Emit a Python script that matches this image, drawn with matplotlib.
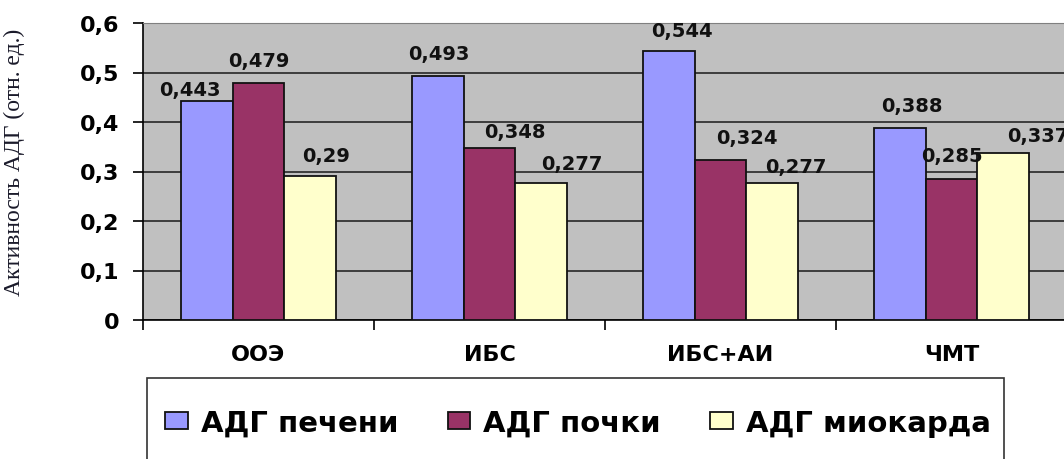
import numpy as np
import matplotlib.pyplot as plt
from matplotlib.patches import Rectangle

# данные
groups = ['ООЭ', 'ИБС', 'ИБС+АИ', 'ЧМТ']
series = ['АДГ печени', 'АДГ почки', 'АДГ миокарда']
liver = [0.443, 0.493, 0.544, 0.388]
kidney = [0.479, 0.348, 0.324, 0.285]
myocard = [0.29, 0.277, 0.277, 0.337]
yticks = [0, 0.1, 0.2, 0.3, 0.4, 0.5, 0.6]
ytick_labels = ['0', '0,1', '0,2', '0,3', '0,4', '0,5', '0,6']

colors = ['#9999FF', '#993366', '#FFFFCC']
# сдвиг подписей (pt), как в исходнике
label_dx = [[-12, 1, 10, 9], [0, 18, 19, 0], [11, 22, 17, 25]]
label_dy = [[1, 9, 8, 9], [9, 5, 9, 10], [8, 7, 5, 6]]

plt.rcParams['font.family'] = ['DejaVu Sans']

fig = plt.figure(figsize=(10.64, 4.6), dpi=100)
ax = fig.add_axes([143 / 1064, 1 - 321 / 460, 924 / 1064, 297 / 460])
ax.set_facecolor('#C0C0C0')

x = np.arange(len(groups))
w = 0.225
data = [liver, kidney, myocard]
for i, vals in enumerate(data):
    xs = x + (i - 1) * w
    ax.bar(xs, vals, width=w, color=colors[i], edgecolor='#111111',
           linewidth=1.3, label=series[i], zorder=3)
    for j, v in enumerate(vals):
        ax.annotate(str(v).replace('.', ','), (xs[j], v),
                    xytext=(label_dx[i][j], label_dy[i][j]),
                    textcoords='offset points', ha='center', va='bottom',
                    fontsize=14, fontweight='bold', color='#111111',
                    zorder=4, annotation_clip=False)

ax.set_xlim(-0.5, 3.5)
ax.set_ylim(0, 0.6)
ax.set_yticks(yticks)
ax.set_yticklabels(ytick_labels, fontsize=16, fontweight='bold')
ax.yaxis.grid(True, color='#333333', linewidth=1.3, zorder=1)
ax.set_axisbelow(True)

ax.set_xticks(np.arange(-0.5, 4, 1))
ax.set_xticklabels([])
ax.set_xticks(x, minor=True)
ax.set_xticklabels(groups, minor=True, fontsize=16, fontweight='bold')
ax.tick_params(axis='x', which='minor', length=0, pad=17)
ax.tick_params(axis='x', which='major', length=7, width=1.2, direction='out')
ax.tick_params(axis='y', length=7, width=1.2, direction='out', pad=10)

ax.spines['top'].set_color('#808080')
ax.spines['right'].set_visible(False)
ax.spines['left'].set_linewidth(1.2)
ax.spines['bottom'].set_linewidth(1.2)

ax.set_ylabel('Активность АДГ (отн. ед.)', family='Liberation Serif',
              fontsize=17, color='#1a1a2a')
ax.yaxis.set_label_coords(-0.128, 0.535)

# рамка легенды
fig.patches.append(Rectangle((147 / 1064, -0.1), (1004 - 147) / 1064,
                             1.1 - 379 / 460, transform=fig.transFigure,
                             fill=False, edgecolor='#333333', linewidth=1.2))
fig.legend(loc='center', bbox_to_anchor=(578 / 1064, 1 - 424 / 460), ncol=3,
           frameon=False, prop={'size': 21, 'weight': 'bold'},
           handlelength=0.76, handleheight=0.55, handletextpad=0.45,
           columnspacing=1.7)

fig.savefig('out.png', dpi=100)
